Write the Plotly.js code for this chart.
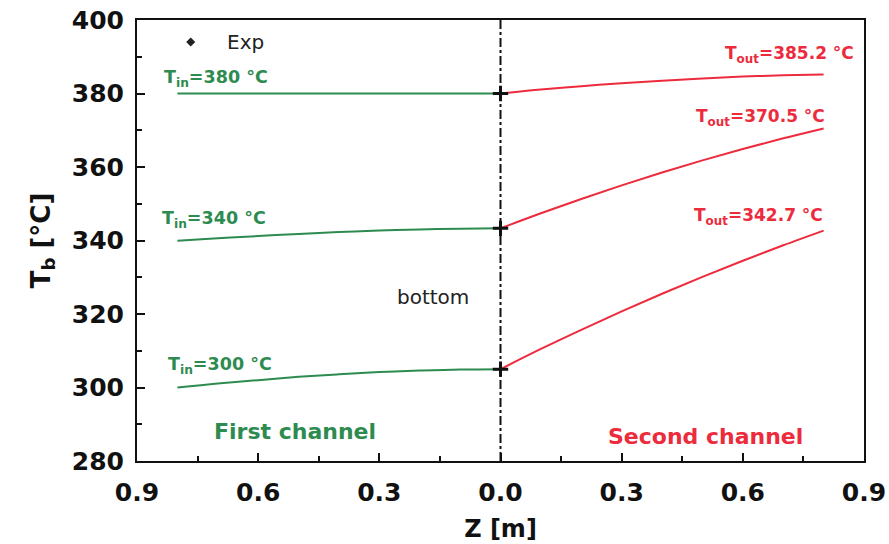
<!DOCTYPE html>
<html>
<head>
<meta charset="utf-8">
<script src="https://cdn.plot.ly/plotly-3.0.1.min.js"></script>
<style>html,body{margin:0;padding:0;background:#fff}#chart{width:889px;height:544px}</style>
</head>
<body>
<div id="chart"></div>
<script>
// distance from the bottom junction, m
const zFirst = [0.8, 0.7, 0.6, 0.5, 0.4, 0.3, 0.2, 0.1, 0.0];
const zSecond = [0.0, 0.1, 0.2, 0.3, 0.4, 0.5, 0.6, 0.7, 0.8];
// first channel (green)
const first380 = [380.0, 380.0, 380.0, 380.0, 380.0, 380.0, 380.0, 380.0, 380.0];
const first340 = [339.9, 340.6, 341.2, 341.8, 342.3, 342.7, 343.0, 343.2, 343.3];
const first300 = [300.0, 301.1, 302.0, 302.9, 303.6, 304.2, 304.6, 304.9, 305.0];
// second channel (red)
const second380 = [380.0, 381.1, 382.0, 382.8, 383.5, 384.1, 384.6, 384.95, 385.2];
const second340 = [343.3, 347.4, 351.3, 355.0, 358.5, 361.8, 364.9, 367.8, 370.5];
const second300 = [305.0, 310.5, 315.7, 320.7, 325.5, 330.1, 334.5, 338.7, 342.7];
// experimental points at the bottom
const expZ = [0.0, 0.0, 0.0];
const expT = [380.0, 343.3, 305.0];
const tickVals = [-0.9, -0.6, -0.3, 0.0, 0.3, 0.6, 0.9];
const tickText = ['0.9', '0.6', '0.3', '0.0', '0.3', '0.6', '0.9'];

const GREEN = '#2e8b50';
const RED = '#ec2b3d';
const neg = a => a.map(v => -v);

function line(x, y, c) {
  return {x: x, y: y, type: 'scatter', mode: 'lines', line: {color: c, width: 2, shape: 'spline', smoothing: 1}, showlegend: false, hoverinfo: 'skip'};
}
const data = [
  line(neg(zFirst), first380, GREEN),
  line(neg(zFirst), first340, GREEN),
  line(neg(zFirst), first300, GREEN),
  line(zSecond, second380, RED),
  line(zSecond, second340, RED),
  line(zSecond, second300, RED),
  {x: expZ, y: expT, type: 'scatter', mode: 'markers', name: 'Exp', showlegend: false,
   marker: {symbol: 'cross-thin-open', size: 11, color: '#111', line: {color: '#111', width: 3}}},
  {x: [-0.767], y: [394], type: 'scatter', mode: 'markers', showlegend: false, hoverinfo: 'skip',
   marker: {symbol: 'diamond', size: 7, color: '#222'}}
];

const F = 'DejaVu Sans, Arial, sans-serif';
function ann(text, x, y, color, size, xanchor, bold) {
  return {text: bold === false ? text : '<b>' + text + '</b>', x: x, y: y, xref: 'x', yref: 'y', showarrow: false,
    xanchor: xanchor, yanchor: 'middle', font: {family: F, size: size, color: color}};
}
const annotations = [
  ann('T<sub>in</sub>=380 °C', -0.837, 384.2, GREEN, 17.5, 'left'),
  ann('T<sub>in</sub>=340 °C', -0.844, 345.6, GREEN, 17.5, 'left'),
  ann('T<sub>in</sub>=300 °C', -0.827, 306.1, GREEN, 17.5, 'left'),
  ann('T<sub>out</sub>=385.2 °C', 0.881, 390.5, RED, 17, 'right'),
  ann('T<sub>out</sub>=370.5 °C', 0.809, 373.6, RED, 17, 'right'),
  ann('T<sub>out</sub>=342.7 °C', 0.804, 346.4, RED, 17, 'right'),
  ann('First channel', -0.51, 287.9, GREEN, 22, 'center'),
  ann('Second channel', 0.507, 286.8, RED, 22, 'center'),
  ann('bottom', -0.166, 324.6, '#222', 20, 'center', false),
  ann('Exp', -0.683, 394, '#222', 20, 'left', false)
];

const layout = {
  width: 889, height: 544,
  margin: {l: 137, r: 25, t: 20, b: 83},
  paper_bgcolor: '#fff', plot_bgcolor: '#fff',
  xaxis: {
    range: [-0.9, 0.9], tickmode: 'array', tickvals: tickVals, ticktext: tickText,
    ticks: 'inside', ticklen: 8, tickwidth: 2, tickcolor: '#111', ticklabelstandoff: 8,
    minor: {tickvals: [-0.75, -0.45, -0.15, 0.15, 0.45, 0.75], ticks: 'inside', ticklen: 5, tickwidth: 2, tickcolor: '#111'},
    showline: true, linecolor: '#111', linewidth: 2, mirror: true,
    showgrid: false, zeroline: false,
    tickfont: {family: F, size: 25, color: '#111', weight: 'bold'},
    title: {text: '<b>Z [m]</b>', font: {family: F, size: 24, color: '#111'}, standoff: 14}
  },
  yaxis: {
    range: [280, 400], tickmode: 'array', tickvals: [280, 300, 320, 340, 360, 380, 400],
    ticks: 'inside', ticklen: 8, tickwidth: 2, tickcolor: '#111', ticklabelstandoff: 6,
    minor: {tickvals: [290, 310, 330, 350, 370, 390], ticks: 'inside', ticklen: 5, tickwidth: 2, tickcolor: '#111'},
    showline: true, linecolor: '#111', linewidth: 2, mirror: true,
    showgrid: false, zeroline: false,
    tickfont: {family: F, size: 25, color: '#111', weight: 'bold'},
    title: {text: '<b>T<sub>b</sub> [°C]</b>', font: {family: F, size: 26, color: '#111'}, standoff: 14}
  },
  shapes: [{type: 'line', xref: 'x', yref: 'y', x0: 0, x1: 0, y0: 280, y1: 400,
    line: {color: '#111', width: 2, dash: 'dashdot'}}],
  annotations: annotations,
  showlegend: false
};

Plotly.newPlot('chart', data, layout, {displayModeBar: false, staticPlot: true});
</script>
</body>
</html>
